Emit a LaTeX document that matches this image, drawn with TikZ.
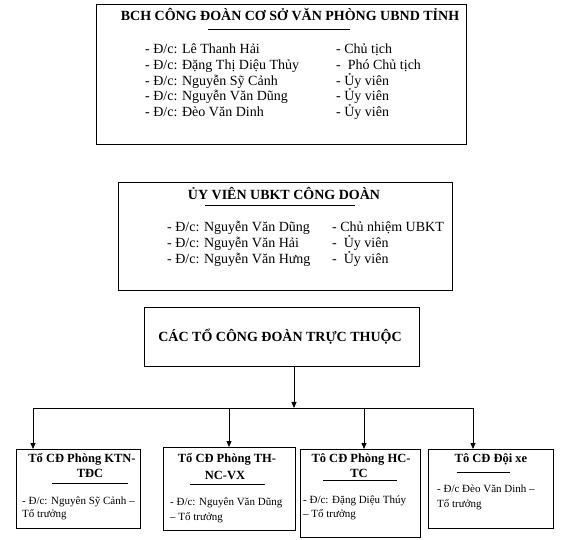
\documentclass[tikz,border=0pt]{standalone}
\usepackage{fontspec}
\setmainfont{Liberation Serif}
\usetikzlibrary{arrows.meta}
\tikzset{
  box/.style={draw, line width=0.9pt, anchor=north west, inner sep=0pt},
  txt/.style={inner sep=0pt, anchor=base west, font=\fontsize{14}{16}\selectfont},
  ttl/.style={inner sep=0pt, anchor=base, font=\fontsize{14}{16}\selectfont\bfseries},
  sttl/.style={inner sep=0pt, anchor=base, font=\fontsize{12.5}{14}\selectfont\bfseries},
  stxt/.style={inner sep=0pt, anchor=base west, font=\fontsize{11}{13}\selectfont},
  uline/.style={line width=0.8pt},
  conn/.style={line width=0.8pt},
  arr/.style={line width=0.8pt, -{Triangle[length=6pt,width=5pt]}}
}
\begin{document}
\begin{tikzpicture}[x=1pt,y=-1pt]
\useasboundingbox (0,0) rectangle (563,540);
% Box 1
\node[box, minimum width=370pt, minimum height=140pt] (b1) at (96,4) {};
\node[ttl] (t1) at (290,21) {BCH CÔNG ĐOÀN CƠ SỞ VĂN PHÒNG UBND TỈNH};
\draw[uline] (208,29) -- (350,29);
\node[txt] (n11) at (145,54) {- Đ/c: Lê Thanh Hải};
\node[txt] (n12) at (145,70) {- Đ/c: Đặng Thị Diệu Thủy};
\node[txt] (n13) at (145,86) {- Đ/c: Nguyễn Sỹ Cảnh};
\node[txt] (n14) at (145,101) {- Đ/c: Nguyễn Văn Dũng};
\node[txt] (n15) at (145,117) {- Đ/c: Đèo Văn Dinh};
\node[txt] (r11) at (336,54) {- Chủ tịch};
\node[txt] (r12) at (336,70) {-\ \ Phó Chủ tịch};
\node[txt] (r13) at (336,86) {- Ủy viên};
\node[txt] (r14) at (336,101) {- Ủy viên};
\node[txt] (r15) at (336,117) {- Ủy viên};
% Box 2
\node[box, minimum width=334pt, minimum height=108pt] (b2) at (118,182) {};
\node[ttl] (t2) at (284,200) {ỦY VIÊN UBKT CÔNG DOÀN};
\draw[uline] (205,205) -- (355,205);
\node[txt] (n21) at (167,232) {- Đ/c: Nguyễn Văn Dũng};
\node[txt] (n22) at (167,248) {- Đ/c: Nguyễn Văn Hải};
\node[txt] (n23) at (167,264) {- Đ/c: Nguyễn Văn Hưng};
\node[txt] (r21) at (332,232) {- Chủ nhiệm UBKT};
\node[txt] (r22) at (332,248) {-\ \ Ủy viên};
\node[txt] (r23) at (332,264) {-\ \ Ủy viên};
% Box 3
\node[box, minimum width=275pt, minimum height=59pt] (b3) at (144,307) {};
\node[ttl] (t3) at (280,342) {CÁC TỔ CÔNG ĐOÀN TRỰC THUỘC};
% Bottom boxes
\node[box, minimum width=124pt, minimum height=79pt] (ba) at (16,449) {};
\node[box, minimum width=132pt, minimum height=83pt] (bb) at (163,447) {};
\node[box, minimum width=120pt, minimum height=88pt] (bc) at (300,449) {};
\node[box, minimum width=125pt, minimum height=79pt] (bd) at (428,449) {};
% Box A text
\node[sttl] (ta1) at (82,463) {Tổ CĐ Phòng KTN-};
\node[sttl] (ta2) at (90,477) {TĐC};
\draw[uline] (52,483) -- (128,483);
\node[stxt] (sa1) at (22,504) {- Đ/c: Nguyên Sỹ Cảnh –};
\node[stxt] (sa2) at (22,517) {Tổ trưởng};
% Box B text
\node[sttl] (tb1) at (227,462) {Tổ CĐ Phòng TH-};
\node[sttl] (tb2) at (225,479) {NC-VX};
\draw[uline] (190,484) -- (265,484);
\node[stxt] (sb1) at (170,505) {- Đ/c: Nguyên Văn Dũng};
\node[stxt] (sb2) at (170,520) {– Tổ trưởng};
% Box C text
\node[sttl] (tc1) at (361,463) {Tô CĐ Phòng HC-};
\node[sttl] (tc2) at (359,477) {TC};
\draw[uline] (323,480) -- (397,480);
\node[stxt] (sc1) at (303,503) {- Đ/c: Đặng Diệu Thúy};
\node[stxt] (sc2) at (303,517) {– Tổ trưởng};
% Box D text
\node[sttl] (td1) at (491,463) {Tô CĐ Đội xe};
\draw[uline] (457,472) -- (510,472);
\node[stxt] (sd1) at (437,493) {- Đ/c Đèo Văn Dinh –};
\node[stxt] (sd2) at (437,507) {Tổ trưởng};
% Connectors
\coordinate (bus) at (294,408);
\coordinate (busL) at (33,408);
\coordinate (busR) at (473,408);
\coordinate (busB) at (229,408);
\coordinate (busC) at (364,408);
\draw[arr] (b3.south -| bus) -- (bus);
\draw[conn] (busL) -- (busR);
\draw[arr] (busL) -- (busL |- ba.north);
\draw[arr] (busB) -- (busB |- bb.north);
\draw[arr] (busC) -- (busC |- bc.north);
\draw[arr] (busR) -- (busR |- bd.north);
\end{tikzpicture}
\end{document}
